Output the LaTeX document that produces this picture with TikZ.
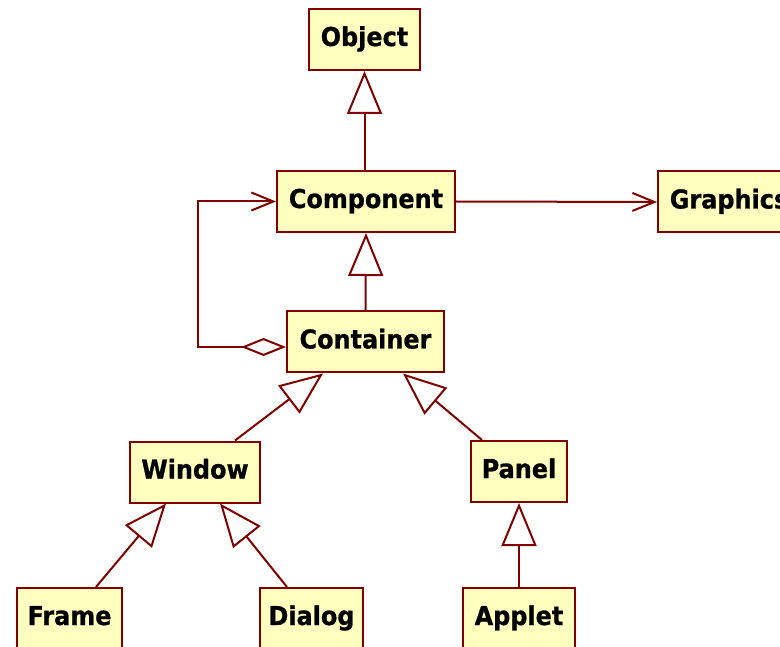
\documentclass[tikz,border=0pt]{standalone}
\usepackage{fontspec}
\newfontfamily\clsfont[FakeStretch=0.92, BoldFeatures={FakeBold=0.8}]{DejaVu Sans}
\usetikzlibrary{arrows.meta}
\definecolor{umlborder}{RGB}{128,0,0}
\definecolor{umlfill}{RGB}{255,255,192}
\tikzset{
  cls/.style={draw=umlborder, fill=umlfill, line width=2pt, inner sep=0pt,
    minimum height=61pt, text height=19pt, text depth=6pt,
    font=\clsfont\fontsize{26}{30}\selectfont\bfseries},
  link/.style={draw=umlborder, line width=2pt},
  inherit/.style={link, -{Triangle[length=43pt,width=35pt,fill=white]}},
  assoc/.style={link, -{Straight Barb[length=22pt,width=18pt]}},
  aggr/.style={link, {Diamond[length=45pt,width=18pt,fill=white]}-{Straight Barb[length=22pt,width=18pt]}}
}
\begin{document}
\begin{tikzpicture}[x=1pt,y=-1pt]
  \useasboundingbox (0,0) rectangle (780,647);
  \clip (0,0) rectangle (780,647);

  % class boxes
  \node[cls, minimum width=111pt] (obj)    at (364.5,39.5)  {Object};
  \node[cls, minimum width=178pt] (comp)   at (366,201.5)   {Component};
  \node[cls, minimum width=150pt, anchor=west] (graph) at (657,202) {\hspace*{-8pt}Graphics};
  \node[cls, minimum width=157pt] (cont)   at (365.5,342)   {Container};
  \node[cls, minimum width=130pt] (win)    at (195,472)     {Window};
  \node[cls, minimum width=96pt]  (panel)  at (519,471.5)   {Panel};
  \node[cls, minimum width=105pt] (frame)  at (69.5,618.5)  {Frame};
  \node[cls, minimum width=103pt] (dialog) at (311.5,618.5) {Dialog};
  \node[cls, minimum width=112pt] (applet) at (519,618.5)   {Applet};

  % generalizations
  \draw[inherit] (comp.north -| obj.south) -- (obj.south);
  \draw[inherit] (cont.north) -- (comp.south);
  \draw[inherit] ([xshift=40pt]win.north) -- ([xshift=-42.5pt]cont.south);
  \draw[inherit] ([xshift=-37pt]panel.north) -- ([xshift=37.5pt]cont.south);
  \draw[inherit] ([xshift=26.5pt]frame.north) -- ([xshift=-29pt]win.south);
  \draw[inherit] ([xshift=-24.5pt]dialog.north) -- ([xshift=25pt]win.south);
  \draw[inherit] (applet.north) -- (panel.south);

  % associations
  \draw[assoc] (comp.east) -- (graph.west);
  \draw[aggr] ([yshift=-5pt]cont.west) -- ++(-88,0) |- (comp.west);
\end{tikzpicture}
\end{document}
